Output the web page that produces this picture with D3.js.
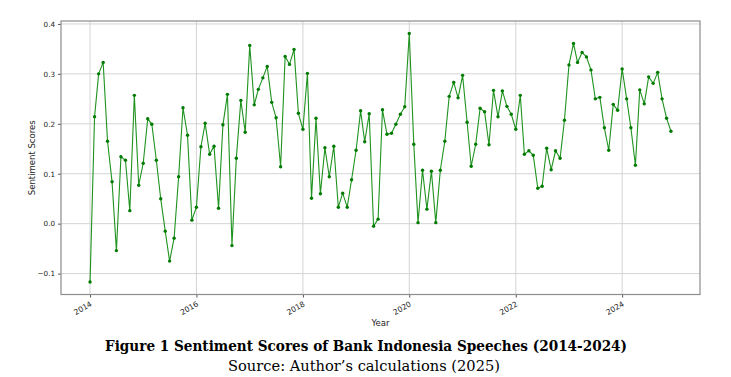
<!DOCTYPE html>
<html>
<head>
<meta charset="utf-8">
<script src="https://cdn.jsdelivr.net/npm/d3@7"></script>
<style>
  body { margin: 0; background: #fff; }
  svg { display: block; }
</style>
</head>
<body>
<div id="chart"></div>
<script>
// monthly sentiment scores, Jan 2014 .. Dec 2024
const START_MONTH = "2014-01-01";
const scores = [
  -0.117, 0.214, 0.300, 0.323, 0.165, 0.084, -0.054, 0.134, 0.127, 0.026, 0.257, 0.077,
  0.121, 0.210, 0.199, 0.127, 0.050, -0.015, -0.075, -0.029, 0.094, 0.232, 0.177, 0.007,
  0.033, 0.154, 0.201, 0.139, 0.155, 0.031, 0.198, 0.259, -0.044, 0.131, 0.247, 0.183,
  0.357, 0.238, 0.269, 0.292, 0.315, 0.243, 0.212, 0.114, 0.335, 0.319, 0.349, 0.221,
  0.189, 0.301, 0.051, 0.211, 0.060, 0.152, 0.094, 0.155, 0.033, 0.061, 0.033, 0.088,
  0.147, 0.226, 0.164, 0.220, -0.005, 0.009, 0.228, 0.179, 0.181, 0.199, 0.219, 0.234,
  0.381, 0.159, 0.002, 0.107, 0.029, 0.105, 0.002, 0.107, 0.165, 0.255, 0.283, 0.252,
  0.297, 0.203, 0.115, 0.159, 0.231, 0.224, 0.158, 0.267, 0.214, 0.266, 0.235, 0.219,
  0.189, 0.257, 0.139, 0.146, 0.137, 0.071, 0.075, 0.151, 0.108, 0.146, 0.131, 0.207,
  0.318, 0.361, 0.323, 0.343, 0.334, 0.308, 0.250, 0.253, 0.192, 0.147, 0.239, 0.227,
  0.310, 0.250, 0.192, 0.117, 0.268, 0.240, 0.294, 0.281, 0.303, 0.250, 0.211, 0.185
];
const x_tick_years = [2014, 2016, 2018, 2020, 2022, 2024];
const y_ticks = [-0.1, 0.0, 0.1, 0.2, 0.3, 0.4];
const caption_title = "Figure 1 Sentiment Scores of Bank Indonesia Speeches (2014-2024)";
const caption_source = "Source: Author\u2019s calculations (2025)";

const WIDTH = 731, HEIGHT = 377;
const PLOT = { left: 61, right: 700, top: 21, bottom: 294.5 };

var svg = d3.select("#chart")
  .append("svg")
  .attr("width", WIDTH)
  .attr("height", HEIGHT);

var start = new Date(START_MONTH + "T00:00:00");
var data = scores.map(function(v, i) {
  return { date: d3.timeMonth.offset(start, i), value: v };
});

function padded(ext) {
  // matplotlib-style 5% margins
  var pad = (ext[1] - ext[0]) * 0.05;
  return [ext[0] - pad, ext[1] + pad];
}

var t_ext = d3.extent(data, d => +d.date);
var t_dom = padded(t_ext).map(t => new Date(t));
var x = d3.scaleTime().domain(t_dom).range([PLOT.left, PLOT.right]);
var y = d3.scaleLinear()
  .domain(padded(d3.extent(scores)))
  .range([PLOT.bottom, PLOT.top]);

var x_ticks = x_tick_years.map(yr => new Date(yr, 0, 1));

// grid
var grid = svg.append("g").attr("class", "grid");
grid.selectAll(".gx")
  .data(x_ticks)
  .enter()
  .append("line")
  .attr("x1", d => x(d)).attr("x2", d => x(d))
  .attr("y1", PLOT.top).attr("y2", PLOT.bottom)
  .attr("stroke", "#d4d4d4")
  .attr("stroke-width", 1);
grid.selectAll(".gy")
  .data(y_ticks)
  .enter()
  .append("line")
  .attr("x1", PLOT.left).attr("x2", PLOT.right)
  .attr("y1", d => y(d)).attr("y2", d => y(d))
  .attr("stroke", "#d4d4d4")
  .attr("stroke-width", 1);

// axes
var x_axis = d3.axisBottom(x)
  .tickValues(x_ticks)
  .tickFormat(d3.timeFormat("%Y"))
  .tickSize(3)
  .tickPadding(2);
var gx = svg.append("g")
  .attr("transform", "translate(0," + PLOT.bottom + ")")
  .call(x_axis);
gx.select(".domain").remove();
gx.selectAll(".tick line").attr("stroke", "#555");
gx.selectAll(".tick text")
  .attr("font-family", "DejaVu Sans, sans-serif")
  .attr("font-size", 7.6)
  .attr("fill", "#222")
  .attr("text-anchor", "end")
  .attr("dy", 0)
  .attr("transform", "translate(2,11) rotate(-30)")
  .attr("y", 0).attr("x", 0);

var y_axis = d3.axisLeft(y)
  .tickValues(y_ticks)
  .tickFormat(d => d3.format(".1f")(d).replace("-", "\u2212"))
  .tickSize(3)
  .tickPadding(3);
var gy = svg.append("g")
  .attr("transform", "translate(" + PLOT.left + ",0)")
  .call(y_axis);
gy.select(".domain").remove();
gy.selectAll(".tick line").attr("stroke", "#555");
gy.selectAll(".tick text")
  .attr("font-family", "DejaVu Sans, sans-serif")
  .attr("font-size", 7.2)
  .attr("fill", "#222");

// frame
svg.append("rect")
  .attr("x", PLOT.left).attr("y", PLOT.top)
  .attr("width", PLOT.right - PLOT.left)
  .attr("height", PLOT.bottom - PLOT.top)
  .attr("fill", "none")
  .attr("stroke", "#8c8c8c")
  .attr("stroke-width", 1.2);

// series
var line = d3.line()
  .x(d => x(d.date))
  .y(d => y(d.value));

svg.append("path")
  .datum(data)
  .attr("d", line)
  .attr("fill", "none")
  .attr("stroke", "#1f931f")
  .attr("stroke-width", 1.1);

svg.append("g")
  .selectAll("circle")
  .data(data)
  .enter()
  .append("circle")
  .attr("cx", d => x(d.date))
  .attr("cy", d => y(d.value))
  .attr("r", 1.7)
  .attr("fill", "#007a00");

// axis labels
svg.append("text")
  .attr("x", (PLOT.left + PLOT.right) / 2)
  .attr("y", 326)
  .attr("text-anchor", "middle")
  .attr("font-family", "DejaVu Sans, sans-serif")
  .attr("font-size", 8.5)
  .attr("fill", "#222")
  .text("Year");

svg.append("text")
  .attr("transform", "translate(35," + (PLOT.top + PLOT.bottom) / 2 + ") rotate(-90)")
  .attr("text-anchor", "middle")
  .attr("font-family", "DejaVu Sans, sans-serif")
  .attr("font-size", 8.5)
  .attr("fill", "#222")
  .text("Sentiment Scores");

// caption
svg.append("text")
  .attr("x", 366)
  .attr("y", 351)
  .attr("text-anchor", "middle")
  .attr("font-family", "DejaVu Serif, serif")
  .attr("font-weight", "bold")
  .attr("font-size", 14)
  .attr("textLength", 522)
  .attr("lengthAdjust", "spacingAndGlyphs")
  .attr("fill", "#000")
  .text(caption_title);

svg.append("text")
  .attr("x", 364)
  .attr("y", 371)
  .attr("text-anchor", "middle")
  .attr("font-family", "DejaVu Serif, serif")
  .attr("font-size", 14)
  .attr("textLength", 272)
  .attr("lengthAdjust", "spacingAndGlyphs")
  .attr("fill", "#000")
  .text(caption_source);
</script>
</body>
</html>
